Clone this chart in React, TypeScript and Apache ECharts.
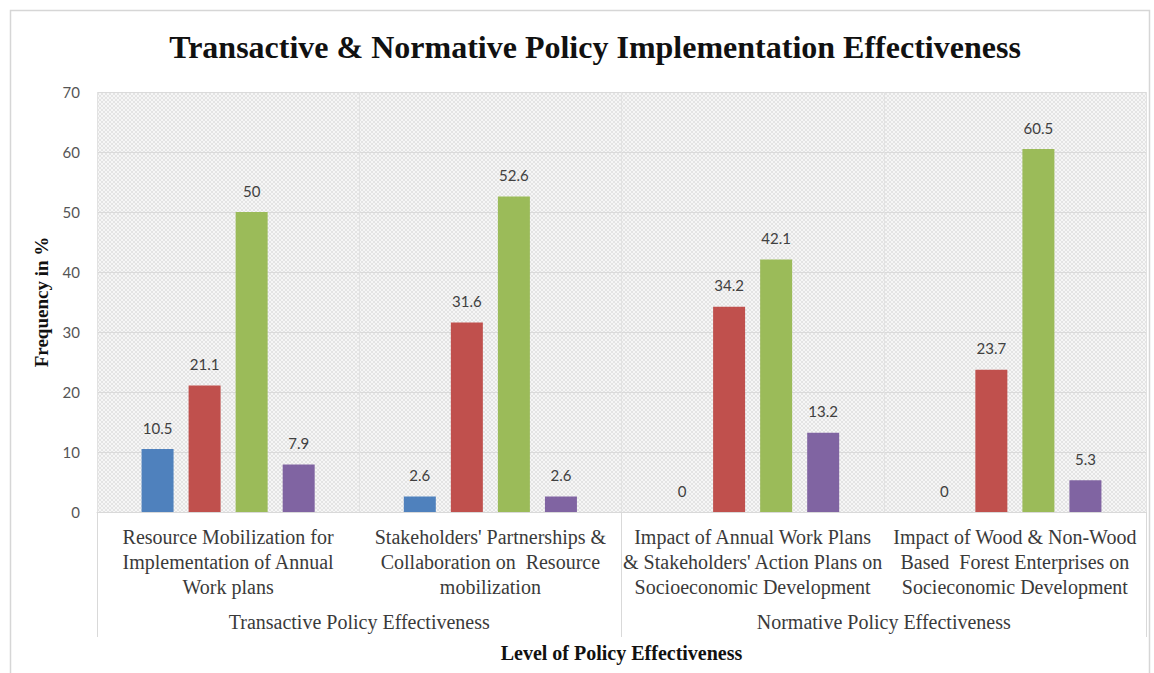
import React, { useEffect, useRef } from "react";
import * as echarts from "echarts";

const categories = [
  "Resource Mobilization for\nImplementation of Annual\nWork plans",
  "Stakeholders' Partnerships &\nCollaboration on  Resource\nmobilization",
  "Impact of Annual Work Plans\n& Stakeholders' Action Plans on\nSocioeconomic Development",
  "Impact of Wood & Non-Wood\nBased  Forest Enterprises on\nSocieconomic Development",
];
const groups = ["Transactive Policy Effectiveness", "Normative Policy Effectiveness"];
const seriesNames = ["Series 1", "Series 2", "Series 3", "Series 4"];
const series1 = [10.5, 2.6, 0, 0];
const series2 = [21.1, 31.6, 34.2, 23.7];
const series3 = [50, 52.6, 42.1, 60.5];
const series4 = [7.9, 2.6, 13.2, 5.3];
const colors = ["#4F81BD", "#C0504D", "#9BBB59", "#8064A2"];
const yMin = 0;
const yMax = 70;
const yStep = 10;

const titleText = "Transactive & Normative Policy Implementation Effectiveness";
const yName = "Frequency in %";
const xName = "Level of Policy Effectiveness";

function makePattern(): HTMLCanvasElement {
  const c = document.createElement("canvas");
  c.width = 4;
  c.height = 4;
  const ctx = c.getContext("2d");
  if (ctx) {
    ctx.fillStyle = "#f6f6f6";
    ctx.fillRect(0, 0, 4, 4);
    ctx.fillStyle = "#e4e4e4";
    for (let i = 0; i < 4; i++) {
      ctx.fillRect(i, 3 - i, 1, 1);
      ctx.fillRect(i, i, 1, 1);
    }
  }
  return c;
}

export default function App() {
  const ref = useRef<HTMLDivElement>(null);
  useEffect(() => {
    if (!ref.current) return;
    const chart = echarts.init(ref.current, undefined, { renderer: "svg" });
    const serif = "'Liberation Serif', 'Times New Roman', serif";
    const sans = "Lato, 'Liberation Sans', sans-serif";
    const data = [series1, series2, series3, series4];
    chart.setOption({
      animation: false,
      backgroundColor: "#ffffff",
      title: {
        text: titleText,
        left: 590,
        top: 26,
        textAlign: "center",
        textStyle: { fontFamily: serif, fontSize: 32, fontWeight: "bold", color: "#111111" },
      },
      graphic: [
        {
          type: "rect",
          z: -10,
          silent: true,
          shape: { x: 10.5, y: 10.5, width: 1139, height: 700 },
          style: { fill: "none", stroke: "#d6d6d6", lineWidth: 1.5 },
        },
      ],
      grid: {
        left: 97,
        right: 8,
        top: 92,
        bottom: 161,
        show: true,
        borderWidth: 0,
        backgroundColor: { image: makePattern(), repeat: "repeat" },
      },
      xAxis: [
        {
          type: "category",
          data: categories,
          gridIndex: 0,
          position: "bottom",
          axisLine: { show: true, lineStyle: { color: "#d9d9d9" } },
          axisTick: { show: false },
          splitLine: { show: true, interval: 0, lineStyle: { color: "#e2e2e2" } },
          axisLabel: {
            interval: 0,
            margin: 12,
            fontFamily: serif,
            fontSize: 20,
            lineHeight: 25,
            color: "#3a3a3a",
          },
        },
        {
          type: "category",
          data: groups,
          gridIndex: 0,
          position: "bottom",
          offset: 125,
          axisLine: { show: false },
          axisTick: { show: true, inside: true, length: 125, interval: 0, lineStyle: { color: "#d9d9d9" } },
          axisLabel: {
            inside: true,
            interval: 0,
            margin: 5,
            fontFamily: serif,
            fontSize: 20,
            color: "#3a3a3a",
          },
          name: xName,
          nameLocation: "middle",
          nameGap: 3,
          nameTextStyle: { fontFamily: serif, fontSize: 20, fontWeight: "bold", color: "#111111" },
        },
      ],
      yAxis: {
        type: "value",
        min: yMin,
        max: yMax,
        interval: yStep,
        axisLine: { show: false },
        axisTick: { show: false },
        splitLine: { show: true, lineStyle: { color: "#dadada" } },
        axisLabel: { margin: 17, fontFamily: sans, fontSize: 15, color: "#555555" },
        name: yName,
        nameLocation: "middle",
        nameGap: 46,
        nameRotate: 90,
        nameTextStyle: { fontFamily: serif, fontSize: 19, fontWeight: "bold", color: "#111111" },
      },
      series: data.map((d, i) => ({
        name: seriesNames[i],
        type: "bar",
        xAxisIndex: 0,
        data: d,
        barWidth: 32,
        barGap: "47%",
        itemStyle: { color: colors[i] },
        label: {
          show: true,
          position: "top",
          distance: 14,
          fontFamily: sans,
          fontSize: 15,
          color: "#404040",
        },
      })),
    });
    return () => chart.dispose();
  }, []);
  return (
    <div
      ref={ref}
      style={{ position: "absolute", left: 0, top: 0, width: 1154, height: 673, background: "#fff" }}
    />
  );
}
